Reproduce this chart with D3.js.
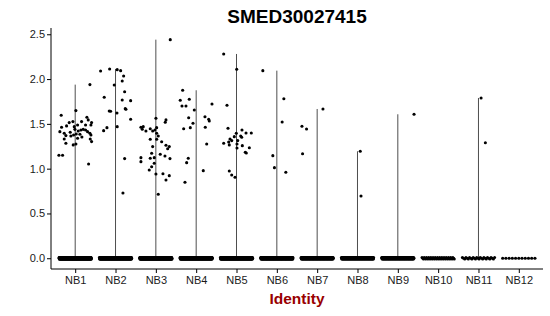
<!DOCTYPE html>
<html>
<head>
<meta charset="utf-8">
<script src="https://cdn.jsdelivr.net/npm/d3@7"></script>
<style>
  html, body { margin: 0; padding: 0; background: #fff; }
  svg { display: block; font-family: "Liberation Sans", Arial, Helvetica, sans-serif; }
</style>
</head>
<body>
<svg id="chart" width="550" height="316"></svg>
<script>
// ---------- data ----------
const title = "SMED30027415";
const xTitle = "Identity";
const categories = ["NB1","NB2","NB3","NB4","NB5","NB6","NB7","NB8","NB9","NB10","NB11","NB12"];
const yTicks = [0, 0.5, 1.0, 1.5, 2.0, 2.5];

// number of cells with zero expression per identity (dense band at 0)
const zeroCounts = [300, 260, 300, 260, 260, 220, 170, 160, 140, 45, 28, 11];

// non-zero cells: [jitter offset (category units), expression]
const nb1 = [[0.365,1.938],[-0.347,1.596],[0.017,1.648],[-0.148,1.514],[-0.057,1.525],[0.158,1.525],[0.290,1.573],[0.323,1.544],[0.406,1.514],[0.390,1.488],[-0.338,1.462],[-0.214,1.477],[-0.024,1.469],[0.059,1.488],[0.257,1.488],[-0.380,1.413],[-0.272,1.395],[-0.123,1.406],[-0.007,1.439],[0.075,1.421],[0.141,1.432],[0.199,1.439],[0.257,1.432],[0.307,1.413],[0.365,1.395],[-0.231,1.369],[-0.107,1.365],[-0.040,1.376],[0.026,1.387],[0.117,1.384],[0.390,1.376],[-0.272,1.331],[0.059,1.339],[0.166,1.354],[0.373,1.331],[-0.231,1.283],[-0.049,1.265],[0.017,1.276],[0.406,1.302],[-0.404,1.149],[-0.313,1.149],[0.332,1.052]];
const nb2 = [[-0.370,2.090],[-0.146,2.113],[0.042,2.105],[0.127,2.094],[0.201,2.035],[0.166,1.979],[-0.032,1.934],[-0.280,1.797],[0.226,1.859],[-0.122,1.641],[-0.156,1.644],[0.375,1.759],[0.166,1.767],[0.241,1.670],[0.258,1.663],[0.035,1.622],[0.375,1.551],[-0.295,1.424],[-0.213,1.458],[0.042,1.469],[0.226,1.112],[0.184,0.729]];
const nb3 = [[0.357,2.440],[0.002,1.563],[0.251,1.544],[0.233,1.518],[-0.370,1.462],[-0.313,1.469],[-0.337,1.440],[-0.246,1.421],[-0.139,1.446],[-0.079,1.421],[-0.022,1.432],[0.020,1.458],[0.020,1.395],[0.060,1.365],[-0.139,1.328],[0.020,1.328],[0.144,1.301],[-0.079,1.246],[0.251,1.261],[0.293,1.223],[0.333,1.246],[-0.104,1.172],[0.109,1.161],[0.226,1.142],[0.350,1.112],[-0.040,1.123],[-0.139,1.116],[-0.370,1.123],[-0.370,1.078],[-0.040,1.060],[-0.104,1.022],[-0.164,0.985],[0.002,0.941],[0.176,0.944],[0.333,0.922],[0.251,0.874],[0.060,0.714]];
const nb4 = [[-0.335,1.875],[-0.395,1.763],[-0.171,1.775],[-0.352,1.700],[-0.253,1.700],[-0.047,1.655],[0.392,1.722],[0.218,1.580],[0.310,1.551],[0.325,1.532],[-0.186,1.569],[-0.079,1.507],[-0.146,1.458],[-0.310,1.446],[0.226,1.462],[0.261,1.276],[-0.196,1.116],[-0.236,1.067],[0.176,0.978],[-0.278,0.848]];
const nb5 = [[-0.318,2.280],[0.005,2.109],[-0.236,1.708],[-0.211,1.451],[0.136,1.432],[0.236,1.398],[0.367,1.398],[-0.005,1.395],[-0.055,1.357],[0.104,1.365],[0.129,1.350],[-0.161,1.331],[-0.119,1.313],[-0.194,1.298],[-0.318,1.283],[0.030,1.313],[-0.179,1.265],[0.012,1.276],[0.144,1.257],[0.012,1.231],[0.318,1.234],[0.218,1.183],[0.243,1.175],[-0.179,0.974],[-0.119,0.930],[-0.037,0.904]];
const nb6 = [[-0.347,2.094],[0.174,1.781],[0.132,1.521],[-0.099,1.145],[-0.060,1.011],[0.223,0.960]];
const nb7 = [[0.144,1.666],[-0.377,1.473],[-0.263,1.443],[-0.362,1.167]];
const nb8 = [[0.069,1.194],[0.087,0.695]];
const nb9 = [[0.402,1.607]];
const nb10 = [];
const nb11 = [[0.065,1.789],[0.171,1.290]];
const nb12 = [];
const nonZero = [nb1, nb2, nb3, nb4, nb5, nb6, nb7, nb8, nb9, nb10, nb11, nb12];

(function () {
  // ---------- layout ----------
  const svg = d3.select("#chart");
  const mL = 51, mR = 543, mT = 28, mB = 269;

  const x = d3.scalePoint().domain(categories).range([mL, mR]).padding(0.6);
  const step = x.step();
  const y = d3.scaleLinear().domain([-0.12, 2.57]).range([mB, mT]);

  // title
  svg.append("text")
    .attr("x", (mL + mR) / 2).attr("y", 23)
    .attr("text-anchor", "middle")
    .attr("font-size", 19).attr("font-weight", "bold")
    .attr("fill", "#000")
    .text(title);

  // violins (degenerate: thin vertical line from 0 to group max)
  categories.forEach((c, i) => {
    const pts = nonZero[i];
    if (!pts.length) return;
    const mx = d3.max(pts, d => d[1]);
    svg.append("line")
      .attr("x1", x(c)).attr("x2", x(c))
      .attr("y1", y(0)).attr("y2", y(mx))
      .attr("stroke", "#3a3a3a").attr("stroke-width", 0.9);
  });

  // zero band
  const zg = svg.append("g");
  categories.forEach((c, i) => {
    const n = zeroCounts[i];
    const dense = n > 20;
    const offs = d3.range(n).map(k => n > 1 ? -0.4 + 0.8 * k / (n - 1) : 0);
    zg.selectAll(null).data(offs).enter().append("circle")
      .attr("cx", d => x(c) + d * step)
      .attr("cy", (d, k) => y(0) + (dense ? ((k % 3) - 1) * 0.8 : 0))
      .attr("r", dense ? 1.5 : 1.6)
      .attr("fill", "#000");
  });

  // non-zero points
  const pg = svg.append("g");
  categories.forEach((c, i) => {
    pg.selectAll(null).data(nonZero[i]).enter().append("circle")
      .attr("cx", d => x(c) + d[0] * step)
      .attr("cy", d => y(d[1]))
      .attr("r", 1.55)
      .attr("fill", "#000");
  });

  // axes
  const yAxis = d3.axisLeft(y).tickValues(yTicks).tickFormat(d3.format(".1f")).tickSize(4).tickPadding(2);
  const yg = svg.append("g").attr("transform", `translate(${mL},0)`).call(yAxis);
  yg.select(".domain").attr("d", `M0,${mT}V${mB}`).attr("stroke", "#000").attr("stroke-width", 1);
  yg.selectAll(".tick line").attr("stroke", "#000");
  yg.selectAll(".tick text").attr("font-size", 11).attr("fill", "#1a1a1a").attr("font-family", "Liberation Sans, Arial, sans-serif");

  const xAxis = d3.axisBottom(x).tickSize(4).tickPadding(3);
  const xg = svg.append("g").attr("transform", `translate(0,${mB})`).call(xAxis);
  xg.select(".domain").attr("d", `M${mL},0H${mR}`).attr("stroke", "#000").attr("stroke-width", 1);
  xg.selectAll(".tick line").attr("stroke", "#000");
  xg.selectAll(".tick text").attr("font-size", 11).attr("fill", "#1a1a1a").attr("font-family", "Liberation Sans, Arial, sans-serif");

  // x title
  svg.append("text")
    .attr("x", (mL + mR) / 2).attr("y", 304)
    .attr("text-anchor", "middle")
    .attr("font-size", 15.5).attr("font-weight", "bold")
    .attr("fill", "#990000")
    .text(xTitle);
})();
</script>
</body>
</html>
